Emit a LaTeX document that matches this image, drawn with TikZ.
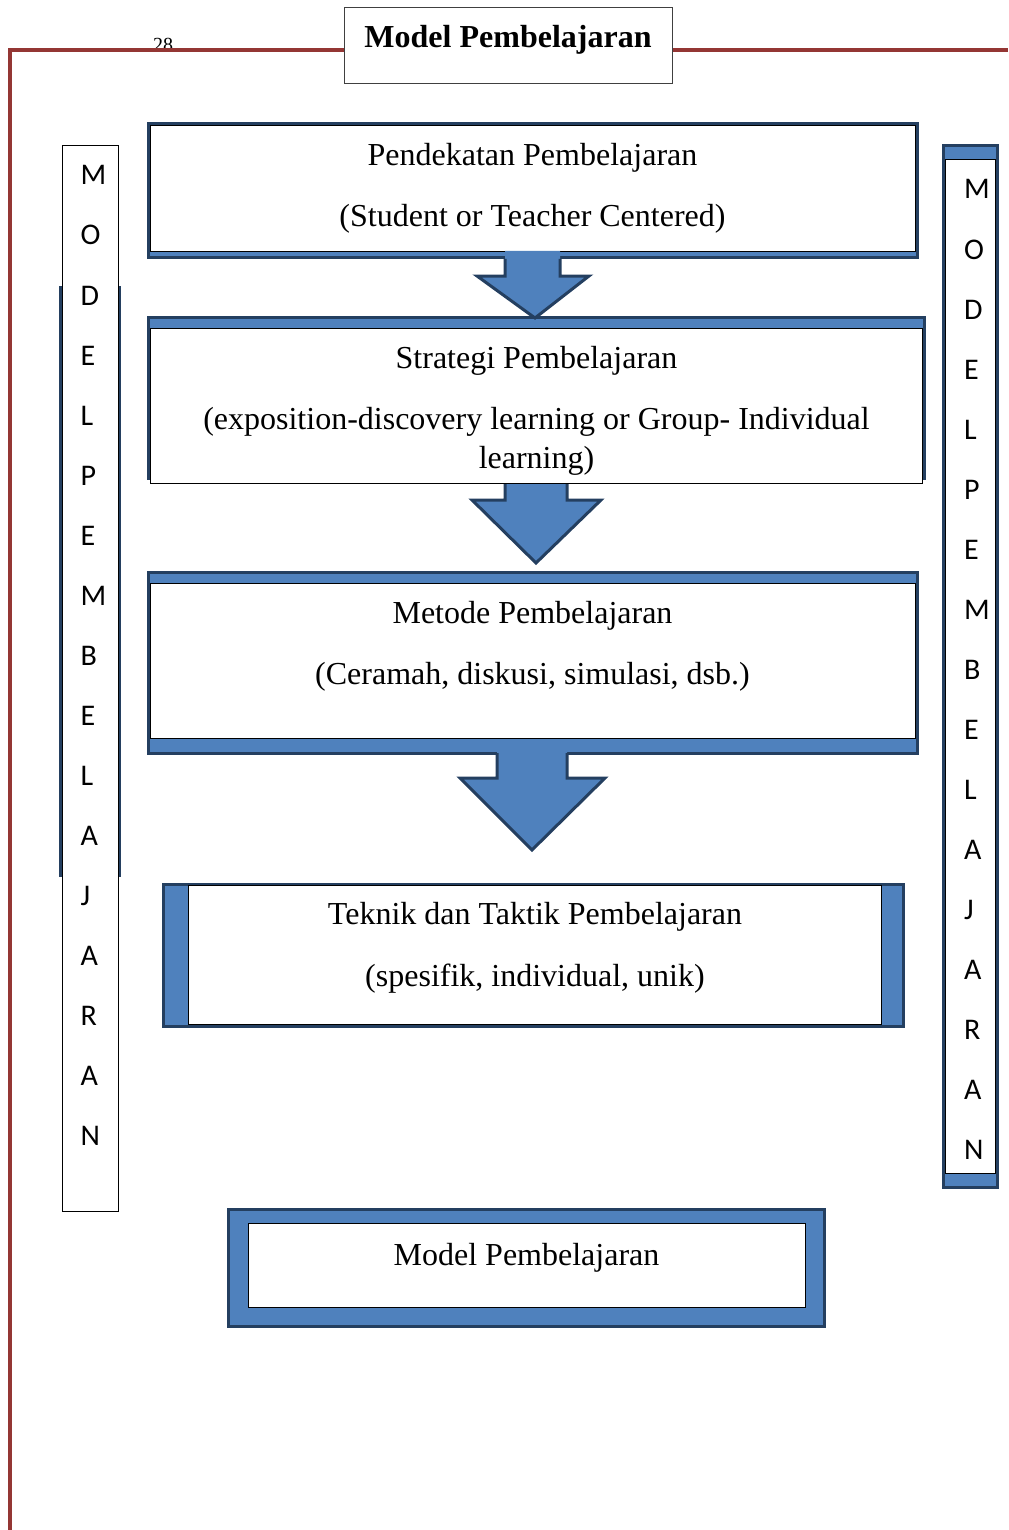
\documentclass[tikz,border=0pt]{standalone}
\usepackage{fontspec}
\setmainfont{Liberation Serif}
\newfontfamily\letterfont{Carlito}

\tikzset{every picture/.style={line width=0.75pt}}
\tikzset{
	blueband/.style={fill={rgb, 255:red, 79; green, 129; blue, 189 }, draw={rgb, 255:red, 36; green, 63; blue, 96 }, line width=2.25pt},
	bluefill/.style={fill={rgb, 255:red, 79; green, 129; blue, 189 }},
	navyline/.style={draw={rgb, 255:red, 36; green, 63; blue, 96 }, line width=2.25pt, line join=miter},
	whitebox/.style={fill=white, draw=black, line width=0.75pt},
	redline/.style={draw={rgb, 255:red, 148; green, 54; blue, 52 }, line width=3.4pt},
	boxtext/.style={anchor=base, inner sep=0.75pt, font=\fontsize{24}{28}\selectfont},
	letter/.style={anchor=base west, inner sep=0pt, font=\letterfont\fontsize{22.5}{26}\selectfont}}

\begin{document}
\begin{tikzpicture}[x=0.75pt,y=0.75pt,yscale=-1,xscale=1]
	\path [use as bounding box] (0,0) rectangle (1008,1530);
	
	% Text Node
	\draw (163,52) node [anchor=base][inner sep=0.75pt, font=\fontsize{15}{18}\selectfont] (pagenum) {28};
	%Straight Lines
	\draw [redline] (10,1530) -- (10,50) -- (1008,50) ;
	%Shape: Rectangle
	\draw [fill=white, draw={rgb, 255:red, 64; green, 64; blue, 64 }] (344,8) rectangle (672,84) ;
	% Text Node
	\draw (508,48) node [boxtext, font=\bfseries\fontsize{24}{28}\selectfont] (title) {Model Pembelajaran};
	
	%Shape: Rectangle
	\draw [blueband] (148,124) rectangle (917,258) ;
	\draw [whitebox] (150,126) rectangle (915,252) ;
	%Shape: Rectangle
	\draw [blueband] (148,317) rectangle (924,478) ;
	\draw [whitebox] (150,328) rectangle (922,483) ;
	%Shape: Rectangle
	\draw [blueband] (148,572) rectangle (917,753) ;
	\draw [whitebox] (150,583) rectangle (915,738) ;
	%Shape: Rectangle
	\draw [blueband] (163,884) rectangle (903,1026) ;
	\draw [whitebox] (188,885) rectangle (881,1024) ;
	%Shape: Rectangle
	\draw [blueband] (228,1209) rectangle (824,1326) ;
	\draw [whitebox] (248,1223) rectangle (805,1307) ;
	
	%Shape: Down Arrow
	\fill [bluefill] (505,251) -- (505,276) -- (477,276) -- (535,318) -- (589,276) -- (560,276) -- (560,251) -- cycle ;
	\draw [navyline] (505,259) -- (505,276) -- (477,276) -- (535,318) -- (589,276) -- (560,276) -- (560,259) ;
	%Shape: Down Arrow
	\fill [bluefill] (505,484) -- (505,500) -- (472,500) -- (536,563) -- (601,500) -- (567,500) -- (567,484) -- cycle ;
	\draw [navyline] (505,484) -- (505,500) -- (472,500) -- (536,563) -- (601,500) -- (567,500) -- (567,484) ;
	%Shape: Down Arrow
	\fill [bluefill] (497,746) -- (497,778) -- (460,778) -- (532,850) -- (605,778) -- (567,778) -- (567,746) -- cycle ;
	\draw [navyline] (497,753) -- (497,778) -- (460,778) -- (532,850) -- (605,778) -- (567,778) -- (567,753) ;
	
	% Text Node
	\draw (532.5,166) node [boxtext] (pend) {Pendekatan Pembelajaran};
	\draw (532.5,227) node [boxtext] (pendsub) {(Student or Teacher Centered)};
	% Text Node
	\draw (536.5,368) node [boxtext] (strat) {Strategi Pembelajaran};
	\draw (536.5,429) node [boxtext] (stratsub) {(exposition-discovery learning or Group- Individual};
	\draw (536.5,468) node [boxtext] (stratsubb) {learning)};
	% Text Node
	\draw (532.5,623) node [boxtext] (metode) {Metode Pembelajaran};
	\draw (532.5,684) node [boxtext] (metodesub) {(Ceramah, diskusi, simulasi, dsb.)};
	% Text Node
	\draw (535,924) node [boxtext] (teknik) {Teknik dan Taktik Pembelajaran};
	\draw (535,986) node [boxtext] (tekniksub) {(spesifik, individual, unik)};
	% Text Node
	\draw (526.5,1265) node [boxtext] (model) {Model Pembelajaran};
	
	%Straight Lines
	\draw [navyline] (60,286) -- (60,877) ;
	\draw [navyline] (119.5,286) -- (119.5,877) ;
	%Shape: Rectangle
	\draw [whitebox] (62,146) rectangle (118,1211) ;
	%Shape: Rectangle
	\draw [blueband] (943,146) rectangle (997,1187) ;
	\draw [whitebox] (945,160) rectangle (995,1173) ;
	
	% Text Node
	\foreach \ch [count=\i from 0] in {M,O,D,E,L,P,E,M,B,E,L,A,J,A,R,A,N} {
		\draw (80,185+60*\i) node [letter] (leftl\i) {\ch};
		\draw (963.5,199+60*\i) node [letter] (rightl\i) {\ch};
	}
	
\end{tikzpicture}
\end{document}
